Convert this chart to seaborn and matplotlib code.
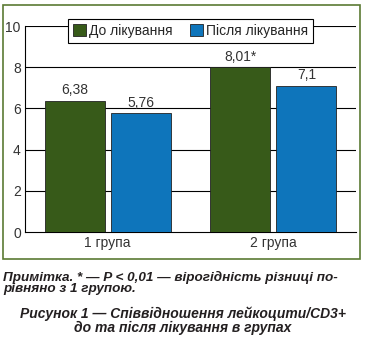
import matplotlib
matplotlib.use("Agg")
import matplotlib.pyplot as plt
import seaborn as sns
import pandas as pd
from matplotlib.patches import Rectangle

groups = ["1 група", "2 група"]
series = ["До лікування", "Після лікування"]
before = [6.38, 8.01]
after = [5.76, 7.1]
labels_before = ["6,38", "8,01*"]
labels_after = ["5,76", "7,1"]
yticks = [0, 2, 4, 6, 8, 10]

colors = ["#375a19", "#0e75bb"]

df = pd.DataFrame({
    "group": groups * 2,
    "series": [series[0]] * 2 + [series[1]] * 2,
    "value": before + after,
})

sns.set_style("white")
plt.rcParams['font.family'] = ['Liberation Sans', 'DejaVu Sans']

fig = plt.figure(figsize=(3.65, 3.38), dpi=100)
ax = fig.add_axes([25/365, 1-232/338, (356-25)/365, (232-26)/338])

sns.barplot(data=df, x="group", y="value", hue="series", palette=colors,
            width=0.8, gap=0.09, edgecolor="#222222", linewidth=0.6,
            ax=ax, zorder=3, saturation=1)

fs = 10
ax.set_xlim(-0.5, 1.5)
ax.set_ylim(0, 10)
ax.set_yticks(yticks)
ax.set_yticklabels([str(t) for t in yticks], fontsize=fs, color="#333333")
ax.tick_params(axis="y", length=0, pad=3)
ax.tick_params(axis="x", length=0, labelsize=fs, labelcolor="#333333", pad=3)
ax.set_xticks([-0.5, 0.5, 1.5], minor=True)
ax.tick_params(axis="x", which="minor", length=3, width=0.8, color="black", direction="out")
ax.set_xlabel("")
ax.set_ylabel("")
for t in yticks[1:]:
    ax.axhline(t, color="black", linewidth=0.8, zorder=1)

for s in ["top", "right"]:
    ax.spines[s].set_visible(False)
for s in ["left", "bottom"]:
    ax.spines[s].set_color("black")
    ax.spines[s].set_linewidth(0.8)

txt = [labels_before, labels_after]
for cont, labs in zip(ax.containers, txt):
    ax.bar_label(cont, labels=labs, padding=2.5, fontsize=fs, color="#333333")

leg = ax.legend(loc="upper center", bbox_to_anchor=(0.5, 1.068), ncol=2,
                frameon=True, fontsize=fs, handlelength=0.9, handleheight=0.9,
                handletextpad=0.2, columnspacing=1.3, borderpad=0.35,
                fancybox=False, edgecolor="black")
leg.get_frame().set_linewidth(0.8)
leg.get_frame().set_facecolor("white")
leg.get_frame().set_alpha(1)
leg.set_zorder(5)
for h in leg.legend_handles:
    h.set_edgecolor("#222222")
    h.set_linewidth(0.6)

fig.patches.append(Rectangle((3/365, 1-259/338), (360-3)/365, (259-5)/338,
                             transform=fig.transFigure, fill=False,
                             edgecolor="#5b7a33", linewidth=1.2))

tc = "#231f20"
fkw = dict(fontweight="bold", fontstyle="italic", color=tc, va="baseline")
fig.text(3/365, 1-281/338, "Примітка. * — P < 0,01 — вірогідність різниці по-",
         ha="left", fontsize=9.7, **fkw)
fig.text(3/365, 1-292/338, "рівняно з 1 групою.", ha="left", fontsize=9.7, **fkw)
fig.text(0.5, 1-318/338, "Рисунок 1 — Співвідношення лейкоцити/CD3+",
         ha="center", fontsize=10, **fkw)
fig.text(0.5, 1-332/338, "до та після лікування в групах",
         ha="center", fontsize=10, **fkw)

fig.savefig("out.png", dpi=100)
